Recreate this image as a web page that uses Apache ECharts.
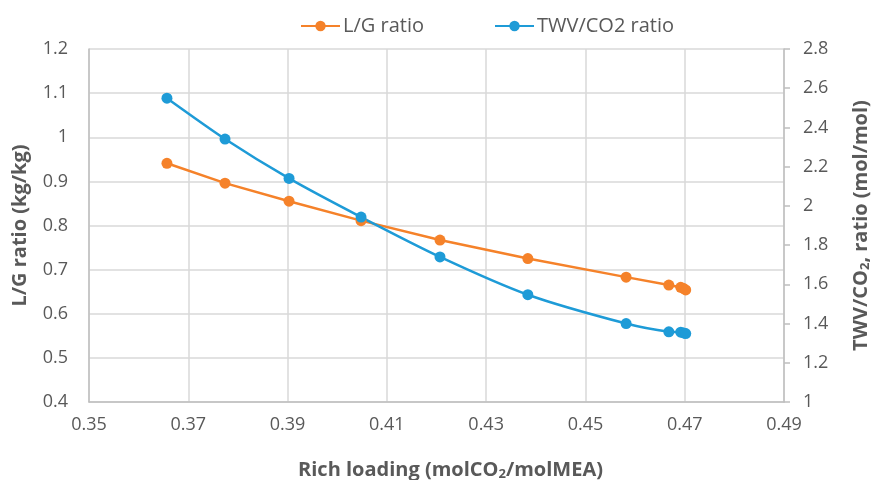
<!DOCTYPE html>
<html>
<head>
<meta charset="utf-8">
<script src="https://cdn.jsdelivr.net/npm/echarts@6/dist/echarts.min.js"></script>
<style>html,body{margin:0;padding:0;background:#fff}#c{width:871px;height:480px}</style>
</head>
<body>
<div id="c"></div>
<script>
var richLoading = [0.3657, 0.3774, 0.3903, 0.4048, 0.4207, 0.4384, 0.4582, 0.4668, 0.4692, 0.4698, 0.4702];
var lgRatio = [0.941, 0.896, 0.855, 0.811, 0.767, 0.725, 0.683, 0.665, 0.660, 0.657, 0.654];
var twvRatio = [2.549, 2.341, 2.140, 1.943, 1.740, 1.547, 1.400, 1.358, 1.356, 1.352, 1.349];
var xTicks = {min: 0.35, max: 0.49, interval: 0.02};
var leftTicks = {min: 0.4, max: 1.2, interval: 0.1};
var rightTicks = {min: 1, max: 2.8, interval: 0.2};

var FONT = '"Open Sans", "Noto Sans", sans-serif';
var ORANGE = '#F5822A';
var BLUE = '#1E9BD7';
var GREY = '#595959';
function pairs(xs, ys){ return xs.map(function(x,i){ return [x, ys[i]]; }); }
var titleRich = {
  a: {fontFamily: FONT, fontSize: 20, fontWeight: 'bold', color: GREY},
  s: {fontFamily: FONT, fontSize: 13, fontWeight: 'bold', color: GREY, padding: [9, 0, 0, 0]}
};
var chart = echarts.init(document.getElementById('c'));
chart.setOption({
  animation: false,
  textStyle: {fontFamily: FONT},
  grid: {left: 89, right: 87, top: 49, bottom: 78, containLabel: false, outerBoundsMode: 'none'},
  legend: {
    left: 295, top: 11, itemGap: 70, itemWidth: 39, itemHeight: 13,
    textStyle: {fontFamily: FONT, fontSize: 20, color: GREY, padding: [0, 0, 0, -2]},
    data: ['L/G ratio', 'TWV/CO2 ratio']
  },
  xAxis: {
    type: 'value', min: xTicks.min, max: xTicks.max, interval: xTicks.interval,
    name: '{a|Rich loading (molCO}{s|2}{a|/molMEA)}',
    nameLocation: 'middle', nameGap: 57,
    nameTextStyle: {rich: titleRich, padding: [0, 0, 0, 28]},
    axisLine: {show: true, lineStyle: {color: '#BFBFBF', width: 1.5}},
    axisTick: {show: false},
    splitLine: {show: true, lineStyle: {color: '#D9D9D9', width: 1.5}},
    axisLabel: {fontFamily: FONT, fontSize: 18, color: GREY, margin: 14,
      formatter: function(v){ return v.toFixed(2); }}
  },
  yAxis: [{
    type: 'value', min: leftTicks.min, max: leftTicks.max, interval: leftTicks.interval,
    name: 'L/G ratio (kg/kg)', nameLocation: 'middle', nameGap: 59, nameRotate: 90,
    nameTextStyle: {fontFamily: FONT, fontSize: 20, fontWeight: 'bold', color: GREY},
    axisLine: {show: true, lineStyle: {color: '#BFBFBF', width: 1.5}},
    axisTick: {show: false},
    splitLine: {show: true, lineStyle: {color: '#D9D9D9', width: 1.5}},
    axisLabel: {fontFamily: FONT, fontSize: 18, color: GREY, margin: 21,
      formatter: function(v){ return String(Math.round(v*10)/10); }}
  }, {
    type: 'value', min: rightTicks.min, max: rightTicks.max, interval: rightTicks.interval,
    position: 'right',
    name: '{a|TWV/CO}{s|2}{a|, ratio (mol/mol)}', nameLocation: 'middle', nameGap: 66, nameRotate: 90,
    nameTextStyle: {rich: titleRich},
    axisLine: {show: true, lineStyle: {color: '#BFBFBF', width: 1.5}},
    axisTick: {show: true, length: 6, lineStyle: {color: '#BFBFBF', width: 1.5}},
    splitLine: {show: false},
    axisLabel: {fontFamily: FONT, fontSize: 18, color: GREY, margin: 19,
      formatter: function(v){ return String(Math.round(v*10)/10); }}
  }],
  series: [{
    name: 'L/G ratio', type: 'line', yAxisIndex: 0,
    data: pairs(richLoading, lgRatio),
    symbol: 'circle', symbolSize: 11,
    lineStyle: {color: ORANGE, width: 2.5},
    itemStyle: {color: ORANGE}
  }, {
    name: 'TWV/CO2 ratio', type: 'line', yAxisIndex: 1, smooth: 0.25,
    data: pairs(richLoading, twvRatio),
    symbol: 'circle', symbolSize: 11,
    lineStyle: {color: BLUE, width: 2.5},
    itemStyle: {color: BLUE}
  }]
});
</script>
</body>
</html>
